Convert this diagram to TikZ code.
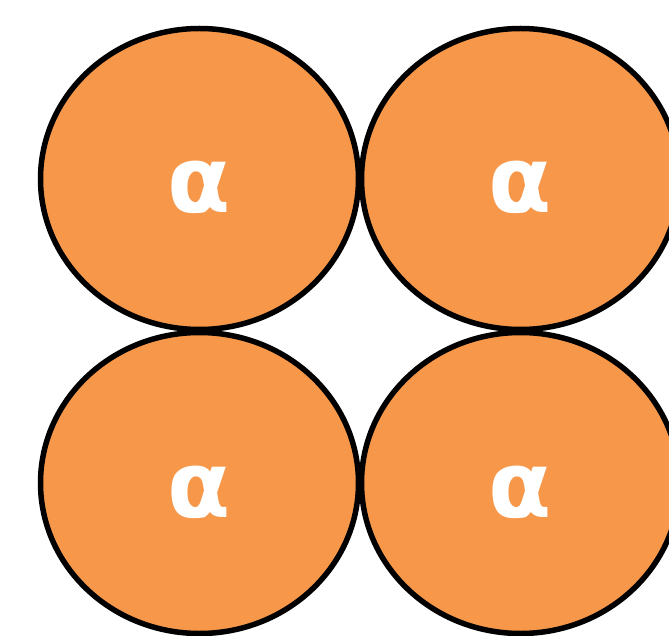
\documentclass[tikz,border=0pt]{standalone}
\usepackage{fontspec}
\setmainfont{DejaVu Sans}
\usepackage{tikz}
\usetikzlibrary{positioning,shapes.geometric}
\definecolor{cellorange}{RGB}{247,151,74}

\begin{document}
\begin{tikzpicture}[
  x=1pt, y=-1pt,
  cell/.style={ellipse, draw=black, line width=5.5pt, fill=cellorange,
               minimum width=318pt, minimum height=301pt, inner sep=0pt,
               text=white, font=\fontsize{92}{92}\selectfont\bfseries,
               text height=68pt, text depth=0pt}
]
\useasboundingbox (0,0) rectangle (669,636);

\node[cell] (topleft)     at (199.5,179) {α};
\node[cell] (topright)    at (520.5,179) {α};
\node[cell] (bottomleft)  at (199.5,483) {α};
\node[cell] (bottomright) at (520.5,483) {α};

\end{tikzpicture}
\end{document}
